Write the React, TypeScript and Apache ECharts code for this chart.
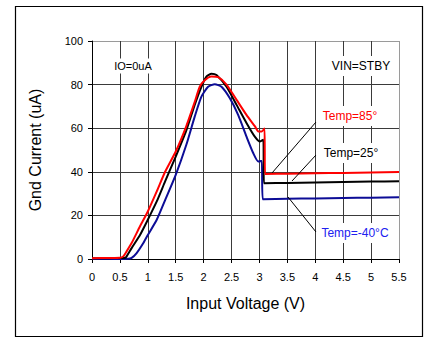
import React, { useEffect, useRef } from "react";
import * as echarts from "echarts";

// Temp = 85°
const v85 = [0, 0.3, 0.5, 0.56, 0.62, 0.71, 0.86, 1.0, 1.16, 1.31, 1.5, 1.69, 1.84, 1.93, 2.02, 2.14, 2.26, 2.41, 2.59, 2.77, 2.92, 2.98, 3.04, 3.09, 3.1, 3.5, 4.0, 4.5, 5.0, 5.5];
const i85 = [0.3, 0.5, 0.6, 1.2, 3.5, 7.3, 15, 21.8, 31, 40, 49.3, 61, 72, 79, 82, 83.7, 83.4, 80, 73, 66, 60.8, 58.5, 58.5, 59.9, 39, 39.1, 39.3, 39.5, 39.7, 39.9];

// Temp = 25°
const v25 = [0, 0.3, 0.5, 0.6, 0.62, 0.71, 0.86, 1.0, 1.16, 1.31, 1.5, 1.69, 1.84, 1.96, 2.05, 2.14, 2.23, 2.41, 2.59, 2.77, 2.92, 3.01, 3.07, 3.08, 3.5, 4.0, 4.5, 5.0, 5.5];
const i25 = [0.3, 0.4, 0.5, 0.6, 1.2, 5, 11, 18, 26.4, 35.6, 47, 59, 70.7, 79, 83.7, 85, 84.4, 79, 70.7, 62.3, 56, 53.9, 54.7, 34.8, 34.9, 35.1, 35.3, 35.5, 35.7];

// Temp = -40°C
const vM40 = [0, 0.3, 0.5, 0.65, 0.71, 0.8, 0.92, 1.0, 1.16, 1.31, 1.5, 1.69, 1.84, 1.96, 2.08, 2.2, 2.32, 2.47, 2.62, 2.77, 2.89, 2.98, 3.04, 3.06, 3.5, 4.0, 4.5, 5.0, 5.5];
const iM40 = [0, 0, 0, 0.1, 0.5, 2.7, 7.3, 11, 18, 27, 38.6, 52.4, 65.3, 74.5, 79, 80.2, 79, 73.7, 66, 56, 48.5, 44.7, 45, 27.4, 27.6, 27.8, 28, 28.1, 28.3];

const xTicks = ["0", "0.5", "1", "1.5", "2", "2.5", "3", "3.5", "4", "4.5", "5", "5.5"];
const yTicks = ["0", "20", "40", "60", "80", "100"];

const FONT = "'Liberation Sans', Arial, sans-serif";

const pairs = (xs: number[], ys: number[]) => xs.map((x, i) => [x, ys[i]]);

export default function App() {
  const ref = useRef<HTMLDivElement>(null);
  useEffect(() => {
    if (!ref.current) return;
    const chart = echarts.init(ref.current, undefined, { renderer: "svg" });
    const gridCol = "#3a3a3a";
    const edgeCol = "#9a9a9a";
    const xColors = xTicks.map((_, i) => (i === xTicks.length - 1 ? edgeCol : gridCol));
    const yColors = yTicks.map((_, i) => (i === yTicks.length - 1 ? edgeCol : gridCol));
    const mkSeries = (name: string, data: number[][], color: string, z: number) => ({
      name,
      type: "line",
      data,
      showSymbol: false,
      symbol: "none",
      smooth: 0.2,
      z,
      lineStyle: { color, width: 2 },
    });
    chart.setOption({
      animation: false,
      backgroundColor: "#fff",
      grid: { left: 92, right: 30, top: 41, bottom: 81, show: false },
      xAxis: {
        type: "value",
        min: 0,
        max: 5.5,
        interval: 0.5,
        name: "Input Voltage (V)",
        nameLocation: "middle",
        nameGap: 36,
        nameTextStyle: { fontFamily: FONT, fontSize: 16, color: "#000" },
        axisLine: { show: true, lineStyle: { color: "#000", width: 1 } },
        axisTick: { show: true, length: 4, lineStyle: { color: "#000" } },
        axisLabel: {
          margin: 12,
          fontFamily: FONT,
          fontSize: 11,
          color: "#000",
          formatter: (v: number) => xTicks[Math.round(v / 0.5)] ?? String(v),
        },
        splitLine: { show: true, lineStyle: { color: xColors, width: 1 } },
      },
      yAxis: {
        type: "value",
        min: 0,
        max: 100,
        interval: 20,
        name: "Gnd Current (uA)",
        nameLocation: "middle",
        nameGap: 49,
        nameTextStyle: { fontFamily: FONT, fontSize: 16, color: "#000" },
        axisLine: { show: true, lineStyle: { color: "#000", width: 1 } },
        axisTick: { show: true, length: 4, lineStyle: { color: "#000" } },
        axisLabel: {
          margin: 9,
          fontFamily: FONT,
          fontSize: 11,
          color: "#000",
          formatter: (v: number) => yTicks[Math.round(v / 20)] ?? String(v),
        },
        splitLine: { show: true, lineStyle: { color: yColors, width: 1 } },
      },
      series: [
        mkSeries("Temp=-40°C", pairs(vM40, iM40), "#0c0c96", 3),
        mkSeries("Temp=25°", pairs(v25, i25), "#000000", 4),
        mkSeries("Temp=85°", pairs(v85, i85), "#ff0000", 5),
      ],
      graphic: [
        {
          type: "rect",
          shape: { x: 15.5, y: 6.5, width: 407, height: 330 },
          style: { fill: "none", stroke: "#000", lineWidth: 1.2 },
          z: 1,
        },
        { type: "line", shape: { x1: 316, y1: 122, x2: 272, y2: 173 }, style: { stroke: "#000", lineWidth: 1 }, z: 20 },
        { type: "line", shape: { x1: 316, y1: 155, x2: 292, y2: 181 }, style: { stroke: "#000", lineWidth: 1 }, z: 20 },
        { type: "line", shape: { x1: 288, y1: 197, x2: 316, y2: 232 }, style: { stroke: "#000", lineWidth: 1 }, z: 20 },
        {
          type: "text",
          x: 133,
          y: 66,
          z: 30,
          style: { text: "IO=0uA", font: `11px ${FONT}`, fill: "#000", align: "center", verticalAlign: "middle", backgroundColor: "#fff", padding: [2, 3] },
        },
        {
          type: "text",
          x: 361,
          y: 66,
          z: 30,
          style: { text: "VIN=STBY", font: `12px ${FONT}`, fill: "#000", align: "center", verticalAlign: "middle", backgroundColor: "#fff", padding: [4, 3] },
        },
        {
          type: "text",
          x: 350,
          y: 116,
          z: 30,
          style: { text: "Temp=85°", font: `12px ${FONT}`, fill: "#ff0000", align: "center", verticalAlign: "middle", backgroundColor: "#fff", padding: [4, 3] },
        },
        {
          type: "text",
          x: 351,
          y: 153,
          z: 30,
          style: { text: "Temp=25°", font: `12px ${FONT}`, fill: "#000", align: "center", verticalAlign: "middle", backgroundColor: "#fff", padding: [4, 3] },
        },
        {
          type: "text",
          x: 355,
          y: 233,
          z: 30,
          style: { text: "Temp=-40°C", font: `12px ${FONT}`, fill: "#2020f0", align: "center", verticalAlign: "middle", backgroundColor: "#fff", padding: [4, 3] },
        },
      ],
    });
    return () => chart.dispose();
  }, []);
  return (
    <div
      ref={ref}
      style={{ position: "fixed", left: 0, top: 0, width: 429, height: 340, background: "#fff" }}
    />
  );
}
